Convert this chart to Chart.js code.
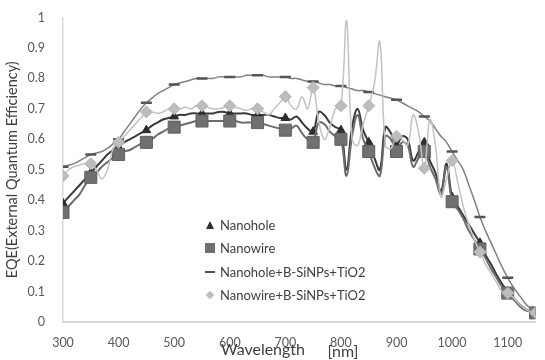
<!DOCTYPE html>
<html>
<head>
<meta charset="utf-8">
<script src="https://cdn.jsdelivr.net/npm/chart.js@4.4.0/dist/chart.umd.min.js"></script>
<style>
    body { margin: 0; background: #fff; }
    #wrap { position: relative; width: 545px; height: 360px; }
    #legend { position: absolute; left: 204px; top: 213px; font: 13px Lato, sans-serif; color: #404040; }
    #legend .row { height: 23.5px; line-height: 18px; display: flex; align-items: center; }
    #legend .mk { width: 12px; height: 18px; position: relative; margin-right: 4px; }
    .tri { position: absolute; left: 2px; top: 5px; width: 0; height: 0; border-left: 4px solid transparent; border-right: 4px solid transparent; border-bottom: 8px solid #2e2e2e; }
    .sq { position: absolute; left: 1px; top: 4px; width: 10px; height: 10px; background: #707070; }
    .dash { position: absolute; left: 1px; top: 8px; width: 10px; height: 2px; background: #555; }
    .dia { position: absolute; left: 3px; top: 6px; width: 6px; height: 6px; background: #bdbdbd; transform: rotate(45deg); }
</style>
</head>
<body>
<div id="wrap">
    <canvas id="eqeChart" width="545" height="360"></canvas>
    <div id="legend">
        <div class="row"><span class="mk"><i class="tri"></i></span>Nanohole</div>
        <div class="row"><span class="mk"><i class="sq"></i></span>Nanowire</div>
        <div class="row"><span class="mk"><i class="dash"></i></span>Nanohole+B-SiNPs+TiO2</div>
        <div class="row"><span class="mk"><i class="dia"></i></span>Nanowire+B-SiNPs+TiO2</div>
    </div>
</div>
<script>
// du lieu doc tu hinh (buoc 10 nm)
const wavelength = [
    300, 310, 320, 330, 340, 350, 360, 370, 380, 390,
    400, 410, 420, 430, 440, 450, 460, 470, 480, 490,
    500, 510, 520, 530, 540, 550, 560, 570, 580, 590,
    600, 610, 620, 630, 640, 650, 660, 670, 680, 690,
    700, 710, 720, 730, 740, 750, 760, 770, 780, 790,
    800, 810, 820, 830, 840, 850, 860, 870, 880, 890,
    900, 910, 920, 930, 940, 950, 960, 970, 980, 990,
    1000, 1010, 1020, 1030, 1040, 1050, 1060, 1070, 1080, 1090,
    1100, 1110, 1120, 1130, 1140, 1150
];
const nanohole = [
    .39, .41, .43, .45, .47, .49, .51, .53, .55, .565,
    .575, .59, .60, .61, .62, .63, .645, .655, .665, .67,
    .675, .68, .68, .685, .685, .685, .685, .685, .69, .69,
    .685, .685, .685, .685, .68, .68, .68, .68, .675, .67,
    .67, .665, .675, .655, .635, .625, .69, .68, .655, .64,
    .63, .50, .64, .70, .63, .59, .54, .50, .64, .62,
    .58, .61, .60, .53, .56, .59, .53, .49, .43, .52,
    .41, .38, .35, .32, .29, .26, .22, .19, .155, .125,
    .10, .08, .06, .045, .035, .03
];
const nanowire = [
    .36, .38, .40, .42, .45, .475, .49, .51, .525, .54,
    .55, .56, .565, .575, .585, .59, .60, .615, .625, .635,
    .64, .645, .65, .655, .66, .66, .66, .66, .66, .66,
    .66, .66, .655, .655, .655, .655, .65, .645, .64, .635,
    .63, .635, .645, .62, .60, .59, .655, .65, .625, .61,
    .60, .48, .61, .68, .60, .56, .51, .48, .61, .60,
    .56, .59, .58, .51, .54, .56, .51, .47, .42, .51,
    .395, .37, .34, .30, .27, .24, .21, .175, .145, .115,
    .095, .075, .055, .04, .035, .03
];
const nanoholePlus = [
    .51, .515, .52, .53, .54, .55, .555, .56, .57, .585,
    .60, .625, .65, .675, .70, .72, .735, .75, .76, .77,
    .78, .785, .79, .795, .80, .80, .80, .80, .805, .805,
    .805, .805, .805, .81, .81, .81, .81, .805, .805, .805,
    .805, .80, .80, .795, .79, .79, .785, .78, .78, .775,
    .775, .77, .765, .76, .76, .755, .75, .745, .74, .735,
    .73, .72, .71, .70, .69, .675, .66, .635, .61, .59,
    .56, .53, .50, .45, .40, .345, .30, .26, .22, .18,
    .145, .115, .09, .065, .045, .03
];
const nanowirePlus = [
    .48, .50, .51, .515, .52, .52, .50, .47, .50, .57,
    .59, .61, .63, .65, .67, .69, .69, .685, .69, .70,
    .70, .70, .705, .70, .71, .71, .705, .70, .70, .705,
    .71, .705, .70, .695, .70, .70, .69, .68, .70, .72,
    .74, .71, .70, .74, .70, .77, .66, .60, .64, .70,
    .71, .99, .60, .58, .65, .71, .78, .92, .58, .57,
    .61, .60, .58, .68, .62, .505, .665, .58, .41, .47,
    .53, .46, .38, .32, .27, .23, .19, .16, .13, .10,
    .095, .08, .06, .045, .035, .03
];
const xTicks = [300, 400, 500, 600, 700, 800, 900, 1000, 1100];
const yTicks = [0, 0.1, 0.2, 0.3, 0.4, 0.5, 0.6, 0.7, 0.8, 0.9, 1];

const toPoints = arr => wavelength.map((w, i) => ({x: w, y: arr[i]}));
// marker chi hien moi 50 nm
const markerEvery50 = r => c => (c.raw && c.raw.x % 50 === 0) ? r : 0;

// tieu de truc x ve tay (chong len nhan)
const xTitle = {
    id: 'xTitle',
    afterDraw(chart) {
        const ctx = chart.ctx;
        ctx.save();
        ctx.fillStyle = '#404040';
        ctx.textAlign = 'center';
        ctx.textBaseline = 'middle';
        ctx.font = '16px Lato, sans-serif';
        ctx.fillText('Wavelength', 263, 350);
        ctx.fillText('[nm]', 343, 352);
        ctx.restore();
    }
};

document.addEventListener('DOMContentLoaded', () => {
    const el = document.getElementById('eqeChart');
    new Chart(el, {
        type: 'line',
        data: {
            datasets: [
                {
                    label: 'Nanohole', data: toPoints(nanohole), order: 3,
                    borderColor: '#3a3a3a', borderWidth: 2, tension: 0.4,
                    pointStyle: 'triangle', pointRadius: markerEvery50(5),
                    pointBackgroundColor: '#2e2e2e', pointBorderColor: '#2e2e2e', pointBorderWidth: 1
                },
                {
                    label: 'Nanowire', data: toPoints(nanowire), order: 2,
                    borderColor: '#6c6c6c', borderWidth: 2, tension: 0.4,
                    pointStyle: 'rect', pointRadius: markerEvery50(8.5),
                    pointBackgroundColor: '#707070', pointBorderColor: '#606060', pointBorderWidth: 1
                },
                {
                    label: 'Nanohole+B-SiNPs+TiO2', data: toPoints(nanoholePlus), order: 1,
                    borderColor: '#808080', borderWidth: 1.5, tension: 0.4,
                    pointStyle: 'line', pointRadius: markerEvery50(5.5),
                    pointBorderColor: '#555', pointBorderWidth: 2.5
                },
                {
                    label: 'Nanowire+B-SiNPs+TiO2', data: toPoints(nanowirePlus), order: 0,
                    borderColor: '#c2c2c2', borderWidth: 1.5, tension: 0.4,
                    pointStyle: 'rectRot', pointRadius: markerEvery50(6),
                    pointBackgroundColor: '#bdbdbd', pointBorderColor: '#b3b3b3', pointBorderWidth: 1
                }
            ]
        },
        options: {
            responsive: false,
            animation: false,
            layout: {padding: {top: 17, right: 5, left: 0, bottom: 0}},
            plugins: {legend: {display: false}, tooltip: {enabled: false}},
            scales: {
                x: {
                    type: 'linear', min: 300, max: 1150,
                    afterBuildTicks: s => { s.ticks = xTicks.map(v => ({value: v})); },
                    afterFit: s => { s.height = 38; },
                    grid: {display: false},
                    border: {color: '#d9d9d9', width: 2},
                    ticks: {color: '#595959', padding: 5, font: {family: 'Lato', size: 12.5}, maxRotation: 0,
                        callback: v => String(v)}
                },
                y: {
                    min: 0, max: 1,
                    afterBuildTicks: s => { s.ticks = yTicks.map(v => ({value: v})); },
                    afterFit: s => { s.width = 63; },
                    grid: {display: false},
                    border: {color: '#d9d9d9', width: 1.5},
                    ticks: {color: '#595959', padding: 10, font: {family: 'Lato', size: 12.5},
                        callback: v => String(Math.round(v * 10) / 10)},
                    title: {display: true, text: 'EQE(External Quantum Efficiency)', color: '#404040',
                        font: {family: 'Lato', size: 14.5}, padding: {top: 4, bottom: 0}}
                }
            }
        },
        plugins: [xTitle]
    });
});
</script>
</body>
</html>
